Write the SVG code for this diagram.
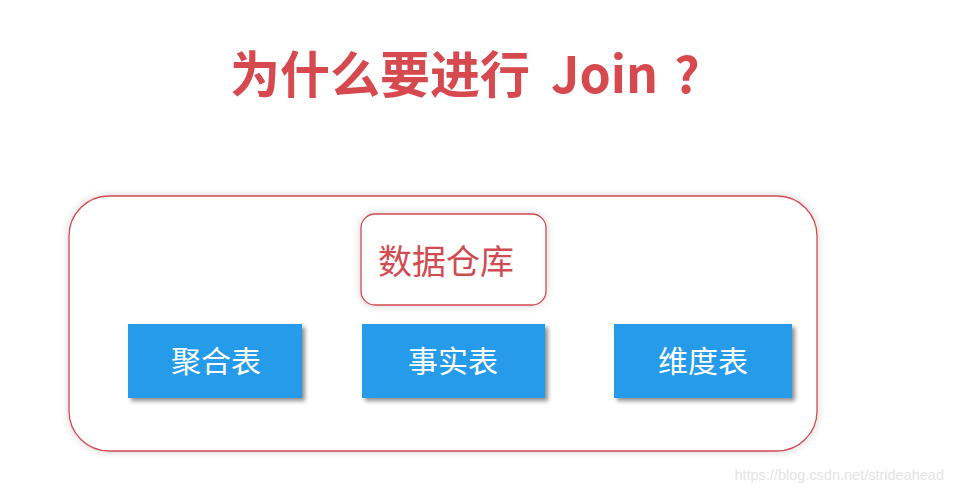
<svg xmlns="http://www.w3.org/2000/svg" width="953" height="490" viewBox="0 0 953 490">
<defs>
<filter id="glow" x="-10%" y="-10%" width="120%" height="130%"><feGaussianBlur in="SourceAlpha" stdDeviation="4"/><feComponentTransfer><feFuncA type="linear" slope="0.18"/></feComponentTransfer><feMerge><feMergeNode/><feMergeNode in="SourceGraphic"/></feMerge></filter>
<filter id="sh" x="-10%" y="-10%" width="125%" height="140%"><feGaussianBlur in="SourceAlpha" stdDeviation="2"/><feOffset dx="3" dy="3"/><feComponentTransfer><feFuncA type="linear" slope="0.45"/></feComponentTransfer><feMerge><feMergeNode/><feMergeNode in="SourceGraphic"/></feMerge></filter>
</defs>
<style>
.cjk{font-family:"Noto Sans CJK SC","Noto Sans",sans-serif}
.blue{fill:#279bea}
.bt{fill:#ffffff;font-size:30px;text-anchor:middle}
.red{stroke:#d14b52;stroke-width:1.3;fill:#ffffff}
.tt{font-size:50px;font-weight:bold;fill:#d6494f}
</style>
<rect width="953" height="490" fill="#ffffff"/>
<g id="title"><text y="93" class="cjk tt"><tspan x="230">为什么要进行</tspan><tspan x="551">Join</tspan><tspan x="674">?</tspan></text></g>
<g id="container"><rect x="69" y="196" width="748" height="255" rx="40" class="red" filter="url(#glow)"/></g>
<g id="warehouse"><rect x="361" y="214" width="185" height="91" rx="14" class="red" filter="url(#glow)"/><text x="446" y="274" class="cjk" font-size="34" fill="#d14b52" text-anchor="middle">数据仓库</text></g>
<g id="agg"><rect x="128" y="324" width="174" height="74" class="blue" filter="url(#sh)"/><text x="216" y="372" class="cjk bt">聚合表</text></g>
<g id="fact"><rect x="362" y="324" width="183" height="74" class="blue" filter="url(#sh)"/><text x="453" y="372" class="cjk bt">事实表</text></g>
<g id="dim"><rect x="614" y="324" width="178" height="74" class="blue" filter="url(#sh)"/><text x="703" y="372" class="cjk bt">维度表</text></g>
<g id="connectors"/>
<text x="944" y="480" font-family="Liberation Sans,Arial,sans-serif" font-size="14.5" fill="#e4e4e4" text-anchor="end">https://blog.csdn.net/strideahead</text>
</svg>
